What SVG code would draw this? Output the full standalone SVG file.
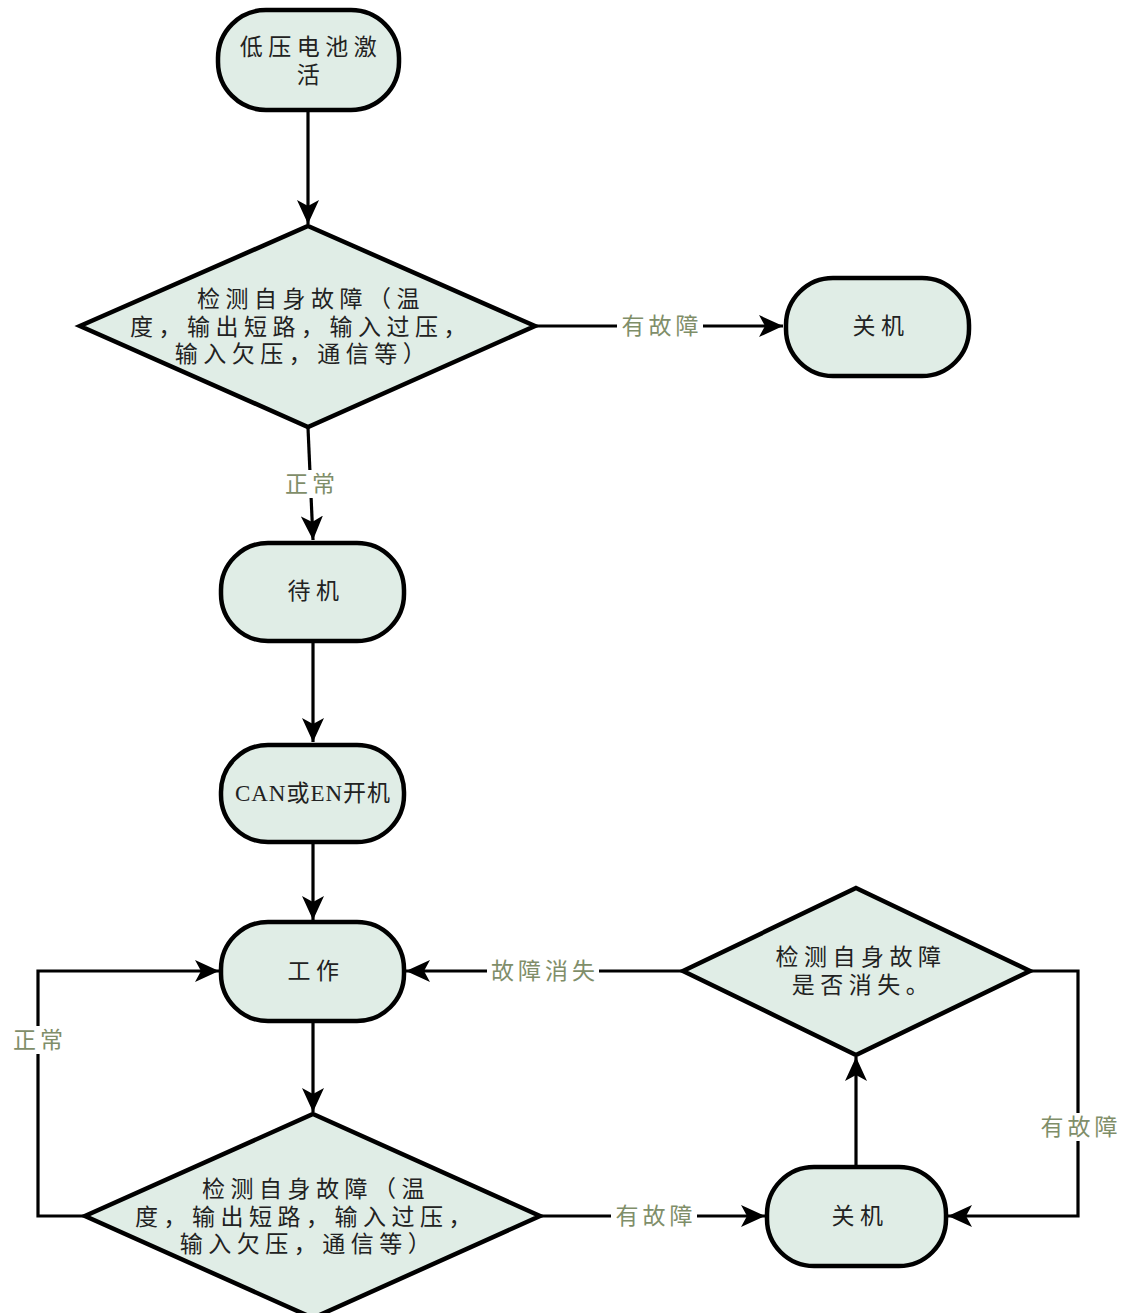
<svg xmlns="http://www.w3.org/2000/svg" width="1127" height="1313" viewBox="0 0 1127 1313">
<defs>
<style>
.node{fill:#e0ede6;stroke:#000;stroke-width:4.5}
.t{font-family:"Liberation Serif","Noto Sans CJK SC",serif;font-size:23px;fill:#222;text-anchor:middle;dominant-baseline:central;letter-spacing:5.5px}
.lbl{font-family:"Liberation Serif","Noto Sans CJK SC",serif;font-size:23px;fill:#7f8e69;text-anchor:middle;dominant-baseline:central;letter-spacing:4px}
.edge{fill:none;stroke:#000;stroke-width:3.2}
.bg{fill:#fff}
</style>
<marker id="arr" markerUnits="userSpaceOnUse" markerWidth="26" markerHeight="22" refX="24" refY="11" orient="auto">
<path d="M0,0 L24,11 L0,22 L6,11 z" fill="#000"/>
</marker>
</defs>
<rect width="1127" height="1313" fill="#fff"/>

<g id="connectors">
<path class="edge" d="M308,111 V224" marker-end="url(#arr)"/>
<path class="edge" d="M535,326 H783" marker-end="url(#arr)"/>
<path class="edge" d="M308,428 L313,540" marker-end="url(#arr)"/>
<path class="edge" d="M313,641 V742" marker-end="url(#arr)"/>
<path class="edge" d="M313,843 V920" marker-end="url(#arr)"/>
<path class="edge" d="M313,1021 V1112" marker-end="url(#arr)"/>
<path class="edge" d="M85,1216 H38 V971 H219" marker-end="url(#arr)"/>
<path class="edge" d="M540,1216 H765" marker-end="url(#arr)"/>
<path class="edge" d="M856,1167 V1057" marker-end="url(#arr)"/>
<path class="edge" d="M683,971 H406" marker-end="url(#arr)"/>
<path class="edge" d="M1030,971 H1078 V1216 H948" marker-end="url(#arr)"/>
<rect class="bg" x="617" y="312" width="86" height="28"/>
<text class="lbl" x="662" y="326">有故障</text>
<rect class="bg" x="282" y="470" width="56" height="28"/>
<text class="lbl" x="312" y="484">正常</text>
<rect class="bg" x="487" y="957" width="112" height="28"/>
<text class="lbl" x="545" y="971">故障消失</text>
<rect class="bg" x="10" y="1026" width="56" height="28"/>
<text class="lbl" x="40" y="1040">正常</text>
<rect class="bg" x="611" y="1202" width="86" height="28"/>
<text class="lbl" x="656" y="1216">有故障</text>
<rect class="bg" x="1036" y="1113" width="86" height="28"/>
<text class="lbl" x="1081" y="1127">有故障</text>
</g>

<g id="start">
<rect class="node" x="218" y="10" width="181" height="100" rx="48" ry="48"/>
<text class="t" x="311" y="47">低压电池激</text>
<text class="t" x="311" y="75">活</text>
</g>

<g id="check1">
<polygon class="node" points="308,226 535,326 308,427 80,326"/>
<text class="t" x="311" y="299">检测自身故障（温</text>
<text class="t" x="301" y="327">度，输出短路，输入过压，</text>
<text class="t" x="303" y="354">输入欠压，通信等）</text>
</g>

<g id="off1">
<rect class="node" x="786" y="278" width="183" height="98" rx="47" ry="47"/>
<text class="t" x="881" y="326">关机</text>
</g>

<g id="standby">
<rect class="node" x="221" y="543" width="183" height="98" rx="47" ry="47"/>
<text class="t" x="316" y="591">待机</text>
</g>

<g id="poweron">
<rect class="node" x="221" y="745" width="183" height="97" rx="47" ry="47"/>
<text class="t" x="313" y="793" style="letter-spacing:1px">CAN或EN开机</text>
</g>

<g id="work">
<rect class="node" x="221" y="922" width="183" height="99" rx="47" ry="47"/>
<text class="t" x="316" y="971">工作</text>
</g>

<g id="check2">
<polygon class="node" points="313,1114 540,1216 313,1318 85,1216"/>
<text class="t" x="316" y="1189">检测自身故障（温</text>
<text class="t" x="306" y="1217">度，输出短路，输入过压，</text>
<text class="t" x="308" y="1244">输入欠压，通信等）</text>
</g>

<g id="off2">
<rect class="node" x="767" y="1167" width="179" height="99" rx="47" ry="47"/>
<text class="t" x="860" y="1216">关机</text>
</g>

<g id="check3">
<polygon class="node" points="856,888 1030,971 856,1055 683,971"/>
<text class="t" x="861" y="957">检测自身故障</text>
<text class="t" x="863" y="985">是否消失。</text>
</g>
</svg>
